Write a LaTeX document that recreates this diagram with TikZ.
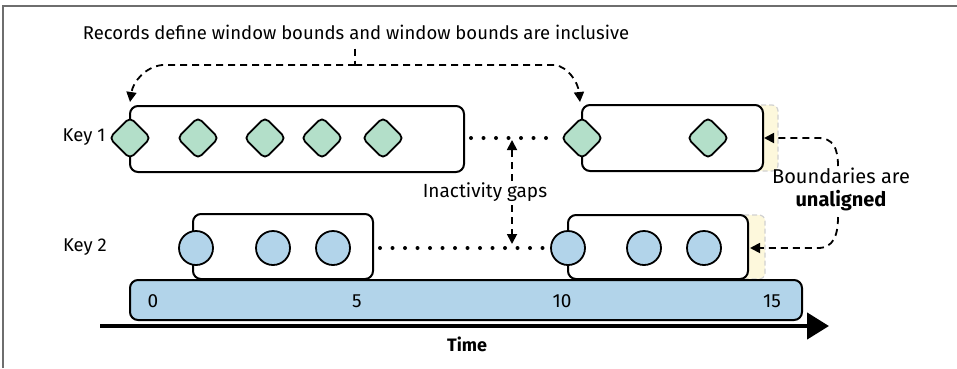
\documentclass[tikz,border=0pt]{standalone}
\usepackage{fontspec}
\setmainfont{Fira Sans}
\usetikzlibrary{arrows.meta,shapes.geometric}
\definecolor{keygreen}{HTML}{B3DFC9}
\definecolor{keyblue}{HTML}{B2D4EA}
\definecolor{shadeyellow}{HTML}{FDF8DC}
\definecolor{framegray}{HTML}{6E6E6E}
\begin{document}
\begin{tikzpicture}[x=1pt,y=-1pt,
  txt/.style={inner sep=0pt, font=\fontsize{18}{21}\selectfont},
  win/.style={draw, line width=2pt, rounded corners=8pt, fill=white, inner sep=0pt},
  rec/.style={diamond, draw, line width=1.8pt, fill=keygreen, minimum size=42pt, inner sep=0pt, rounded corners=5pt},
  evt/.style={circle, draw, line width=1.8pt, fill=keyblue, minimum size=34pt, inner sep=0pt},
  gapdots/.style={line width=4pt, line cap=round, dash pattern=on 0pt off 12.5pt},
  dconn/.style={line width=1.8pt, dash pattern=on 7pt off 5pt, -{Triangle[length=10pt,width=10pt]}},
  dline/.style={line width=1.8pt, dash pattern=on 7pt off 5pt},
  shadebox/.style={fill=shadeyellow, draw=black!18, line width=1.2pt, dash pattern=on 5pt off 3pt, rounded corners=6pt}
]
\useasboundingbox (0,0) rectangle (957,368);
% frame
\draw[framegray, line width=1.5pt] (3,368) -- (3,6) -- (957,6);

% title
\node[txt, font=\fontsize{18.5}{22}\selectfont] (title) at (356,32) {Records define window bounds and window bounds are inclusive};

% shading behind right windows
\draw[shadebox] (748,105) rectangle (778,171);
\draw[shadebox] (735,215) rectangle (765,279);

% timeline
\node[win, fill=keyblue, minimum width=672pt, minimum height=40pt] (tl) at (466,300) {};
\node[txt, font=\fontsize{19}{22}\selectfont] (t0) at (153,301) {0};
\node[txt, font=\fontsize{19}{22}\selectfont] (t5) at (357,301) {5};
\node[txt, font=\fontsize{19}{22}\selectfont] (t10) at (562,301) {10};
\node[txt, font=\fontsize{19}{22}\selectfont] (t15) at (772,301) {15};

% windows
\node[win, minimum width=334pt, minimum height=66pt] (w1a) at (297,139) {};
\node[win, minimum width=181pt, minimum height=66pt] (w1b) at (672.5,138) {};
\node[win, minimum width=180pt, minimum height=65pt] (w2a) at (283,246.5) {};
\node[win, minimum width=180pt, minimum height=64pt] (w2b) at (658,247) {};

% keys
\node[txt, font=\fontsize{18.5}{21}\selectfont] (k1) at (84,137) {Key 1};
\node[txt, font=\fontsize{18.5}{21}\selectfont] (k2) at (85,247) {Key 2};

% key 1 records
\node[rec] (r1) at (130,138) {};
\node[rec] (r2) at (198,138) {};
\node[rec] (r3) at (265,138) {};
\node[rec] (r4) at (322,138) {};
\node[rec] (r5) at (383,138) {};
\node[rec] (r6) at (582,138) {};
\node[rec] (r7) at (708,138) {};

% key 2 records
\node[evt] (e1) at (196,248) {};
\node[evt] (e2) at (273,248) {};
\node[evt] (e3) at (333,248) {};
\node[evt] (e4) at (568,248) {};
\node[evt] (e5) at (644,248) {};
\node[evt] (e6) at (704,248) {};

% gaps
\draw[gapdots] ([xshift=6pt]w1a.east |- r1) -- ([xshift=-2pt]r6.west);
\draw[gapdots] ([xshift=6pt]w2a.east |- e1) -- ([xshift=-2pt]e4.west);

% inactivity gaps
\node[txt, font=\fontsize{19}{22}\selectfont] (gap) at (485,192) {Inactivity gaps};
\coordinate (gup) at (512,140);
\coordinate (gdn) at (512,244);
\draw[dconn] (512,181) -- (gup);
\draw[dconn] (512,205) -- (gdn);

% title connectors
\coordinate (tj) at (355,65);
\coordinate (tl1) at (130,102);
\coordinate (tr1) at (580,102);
\draw[dline] ([yshift=-9pt]title.south -| tj) -- (tj);
\draw[dconn] (tj) -- (162,65) .. controls (145,67) and (133,82) .. (tl1);
\draw[dconn] (tj) -- (555,65) .. controls (568,67) and (578,82) .. (tr1);

% boundaries
\node[txt, align=center, font=\fontsize{20}{23}\selectfont] (bnd) at (841,189) {Boundaries are\\\textbf{unaligned}};
\coordinate (b1) at (764,138);
\coordinate (b2) at (750,248);
\draw[dconn] (838,166) .. controls (838,148) and (833,138) .. (818,138) -- (b1);
\draw[dconn] (838,217) .. controls (838,236) and (833,248) .. (818,248) -- (b2);

% time axis
\coordinate (ax0) at (100,326);
\coordinate (ax1) at (829,326);
\draw[line width=4.5pt, -{Triangle[length=22pt,width=26pt]}] (ax0) -- (ax1);
\node[txt, font=\fontsize{18}{20}\selectfont\bfseries] (time) at (467,344) {Time};
\end{tikzpicture}
\end{document}
